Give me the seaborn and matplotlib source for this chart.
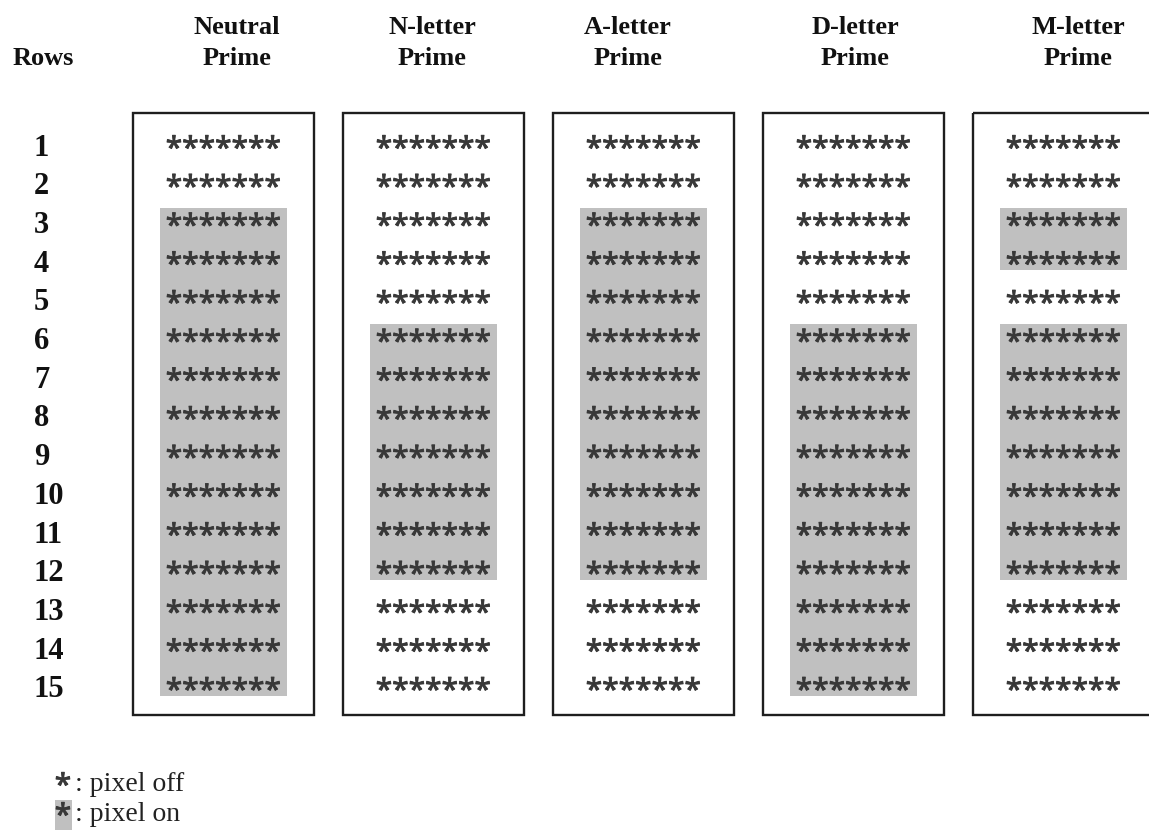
import matplotlib
matplotlib.use("Agg")
import matplotlib.pyplot as plt
import matplotlib.patheffects as pe
import seaborn as sns
import pandas as pd

# ---------------- data ----------------
panel_titles = ["Neutral\nPrime", "N-letter\nPrime", "A-letter\nPrime", "D-letter\nPrime", "M-letter\nPrime"]
rows = list(range(1, 16))
star_label = "*******"
neutral_on = [3, 4, 5, 6, 7, 8, 9, 10, 11, 12, 13, 14, 15]
nletter_on = [6, 7, 8, 9, 10, 11, 12]
aletter_on = [3, 4, 5, 6, 7, 8, 9, 10, 11, 12]
dletter_on = [6, 7, 8, 9, 10, 11, 12, 13, 14, 15]
mletter_on = [3, 4, 6, 7, 8, 9, 10, 11, 12]
rows_header = "Rows"
legend_labels = [": pixel off", ": pixel on"]

on_sets = [neutral_on, nletter_on, aletter_on, dletter_on, mletter_on]
cells = pd.DataFrame(
    [(p, r, r in on_sets[p]) for p in range(len(panel_titles)) for r in rows],
    columns=["panel", "row", "on"],
)

# ---------------- style ----------------
sns.set_theme(style="white")
plt.rcParams["font.family"] = ["Liberation Serif", "DejaVu Serif"]
STAR_FONT = ["Noto Sans", "DejaVu Sans"]

W, H = 1149, 830
fig = plt.figure(figsize=(W / 100, H / 100), dpi=100)
ax = fig.add_axes([0, 0, 1, 1])
ax.axis("off")

# layout: panel p centre at pixel 223.5 + 210 p ; row r at pixel 145 + 38.7 (r-1)
X0, DX = 223.5, 210.0
Y0, DY = 145.0, 38.7
px2x = lambda x: (x - X0) / DX
px2y = lambda y: 1 + (y - Y0) / DY
ax.set_xlim(px2x(0), px2x(W))
ax.set_ylim(px2y(H), px2y(0))

GRAY = "#c0c0c0"
STAR_COLOR = "#383838"
EDGE = "#1e1e1e"
STAR_FX = [pe.withStroke(linewidth=0.6, foreground=STAR_COLOR)]

# shaded runs ("pixel on")
for p in range(len(panel_titles)):
    on = sorted(cells[(cells.panel == p) & cells.on].row.tolist())
    runs = []
    for r in on:
        if runs and r == runs[-1][1] + 1:
            runs[-1][1] = r
        else:
            runs.append([r, r])
    for a, b in runs:
        ax.bar(p, b - a + 0.62, bottom=a - 0.38, width=127 / DX,
               color=GRAY, linewidth=0, zorder=1)

# panel boxes
box_top, box_bot = px2y(113), px2y(715)
for p in range(len(panel_titles)):
    ax.bar(p, box_bot - box_top, bottom=box_top, width=181 / DX, fill=False,
           edgecolor=EDGE, linewidth=1.7, zorder=3)

# stars
for _, c in cells.iterrows():
    ax.text(c.panel, c.row + 0.14, star_label, ha="center", va="center",
            fontsize=21.5, family=STAR_FONT, color=STAR_COLOR, zorder=4,
            path_effects=STAR_FX)

# row labels
for r in rows:
    ax.text(px2x(34), r + 0.08, str(r), ha="left", va="center",
            fontsize=22, fontweight="bold", color="#111111")

# headers
header_px = [237, 432, 628, 855, 1078]
for p, t in enumerate(panel_titles):
    ax.text(px2x(header_px[p]), px2y(43), t, ha="center", va="center",
            fontsize=19, fontweight="bold", color="#111111", linespacing=1.42)
ax.text(px2x(43.5), px2y(58), rows_header, ha="center", va="center",
        fontsize=19, fontweight="bold", color="#111111")

# legend
ax.bar(px2x(63.5), px2y(830) - px2y(800), bottom=px2y(800), width=17 / DX,
       color=GRAY, linewidth=0, zorder=1)
for i, lab in enumerate(legend_labels):
    yc = px2y(782 + 30 * i)
    ax.text(px2x(63), yc + 0.14, "*", ha="center", va="center",
            fontsize=21.5, family=STAR_FONT, color=STAR_COLOR, zorder=4,
            path_effects=STAR_FX)
    ax.text(px2x(75), yc + 0.06, lab, ha="left", va="center",
            fontsize=20, color="#222222")

fig.savefig("out.png", dpi=100)
